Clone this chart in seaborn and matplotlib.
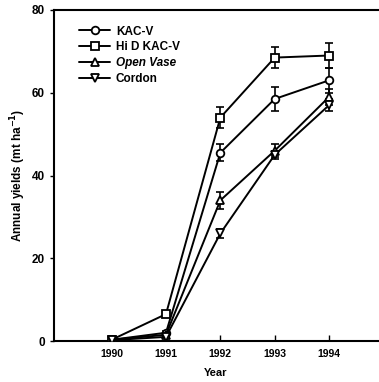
import matplotlib
matplotlib.use("Agg")
import matplotlib.pyplot as plt
import seaborn as sns
import pandas as pd
from matplotlib.lines import Line2D

years = [1990, 1991, 1992, 1993, 1994]
series_names = ["KAC-V", "Hi D KAC-V", "Open Vase", "Cordon"]
kacv = [0.3, 2.0, 45.5, 58.5, 63.0]
hid_kacv = [0.3, 6.5, 54.0, 68.5, 69.0]
open_vase = [0.3, 1.5, 34.0, 46.0, 59.0]
cordon = [0.2, 1.0, 26.0, 45.0, 57.0]
kacv_err = [0, 0.5, 2.0, 3.0, 3.0]
hid_err = [0, 0.5, 2.5, 2.5, 3.0]
ov_err = [0, 0.5, 2.0, 1.5, 2.0]
cordon_err = [0, 0.3, 1.0, 1.0, 1.5]
y_ticks = [0, 20, 40, 60, 80]

values = [kacv, hid_kacv, open_vase, cordon]
errs = [kacv_err, hid_err, ov_err, cordon_err]
markers = ["o", "s", "^", "v"]

rows = []
for name, vals in zip(series_names, values):
    for yr, v in zip(years, vals):
        rows.append({"Year": yr, "Yield": v, "Series": name})
df = pd.DataFrame(rows)

sns.set_style("ticks")
plt.rcParams["font.family"] = ["Liberation Sans", "DejaVu Sans"]
plt.rcParams["font.weight"] = "bold"
for k in ["text.color", "axes.labelcolor", "xtick.color", "ytick.color", "axes.edgecolor"]:
    plt.rcParams[k] = "black"

fig = plt.figure(figsize=(3.79, 3.82), dpi=100)
ax = fig.add_axes([54/379, 1 - 341/382, (378-54)/379, (341-10)/382])

MS = 5.5
for name, vals, err, m in zip(series_names, values, errs, markers):
    sub = df[df["Series"] == name]
    ax.errorbar(sub["Year"], sub["Yield"], yerr=err, fmt="none", ecolor="black",
                elinewidth=1.2, capsize=3, capthick=1.2, zorder=2)
    sns.lineplot(data=sub, x="Year", y="Yield", ax=ax, color="black", linewidth=1.4,
                 marker=m, markersize=MS, markerfacecolor="white",
                 markeredgecolor="black", markeredgewidth=1.3, zorder=3, legend=False)

ax.set_xlim(1988.94, 1994.9)
ax.set_ylim(0, 80)
ax.set_xticks(years)
ax.set_yticks(y_ticks)
ax.tick_params(axis="x", direction="in", length=4, width=1, labelsize=7.5, pad=6, colors="black")
ax.tick_params(axis="y", direction="out", length=3, width=1, labelsize=8.5, colors="black")
for lab in ax.get_xticklabels() + ax.get_yticklabels():
    lab.set_fontweight("bold")
ax.set_xlabel("Year", fontsize=8, fontweight="bold", labelpad=6, color="black")
ax.set_ylabel("Annual yields (mt ha$^{\\mathbf{-1}}$)", fontsize=8.5, fontweight="bold",
              labelpad=3, color="black")
for s in ["left", "bottom", "top"]:
    ax.spines[s].set_linewidth(1.5)
    ax.spines[s].set_visible(True)
    ax.spines[s].set_color("black")
ax.spines["right"].set_visible(False)

handles = [Line2D([0], [0], color="black", linewidth=1.4, marker=m, markersize=MS,
                  markerfacecolor="white", markeredgecolor="black", markeredgewidth=1.3)
           for m in markers]
leg = ax.legend(handles, series_names, loc="upper left", frameon=False, fontsize=8.5,
                handlelength=2.6, handletextpad=0.5, labelspacing=0.33,
                borderpad=0.4, bbox_to_anchor=(0.045, 0.985))
for t in leg.get_texts():
    t.set_fontweight("bold")
    t.set_color("black")
leg.get_texts()[2].set_fontstyle("italic")

fig.savefig("out.png", dpi=100)
